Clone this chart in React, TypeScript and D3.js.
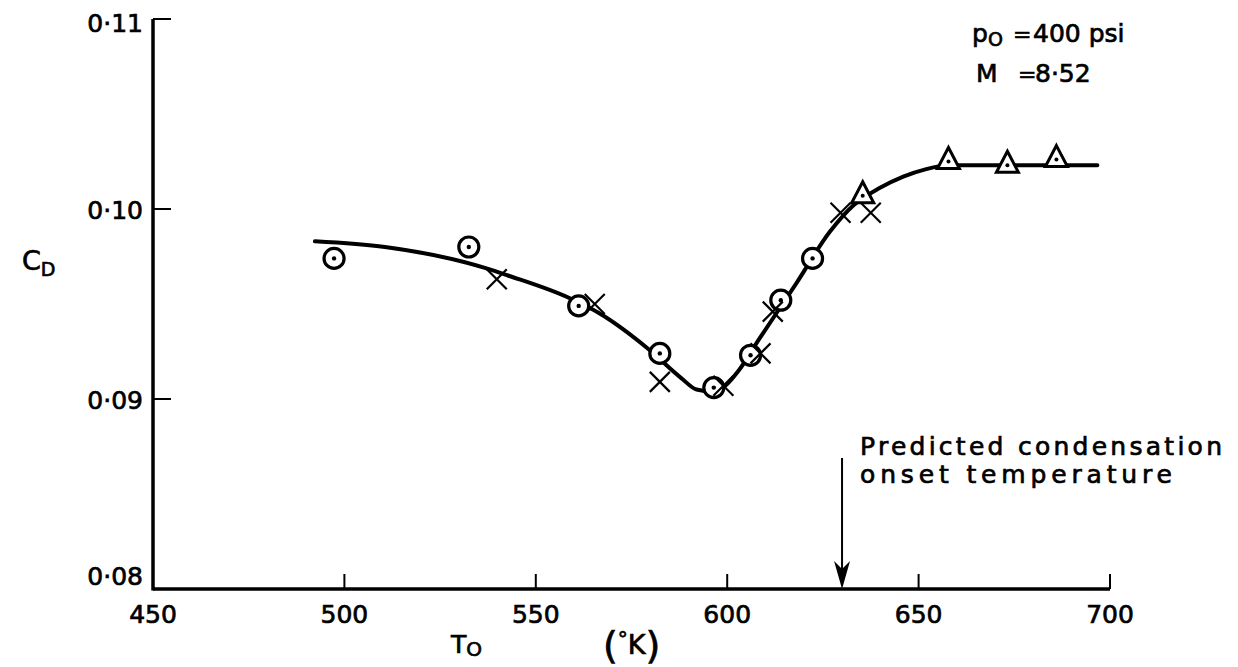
import React from "react";
import * as d3 from "d3";

// ---- data ----
const circleT = [497.3, 532.5, 561.2, 582.4, 596.5, 606.1, 614.0, 622.3];
const circleC = [0.0974, 0.098, 0.0949, 0.0924, 0.0906, 0.0923, 0.0952, 0.0974];

const crossT = [539.8, 565.4, 582.4, 599.0, 608.7, 611.9, 629.6, 637.5];
const crossC = [0.0963, 0.095, 0.0909, 0.0907, 0.0924, 0.0946, 0.0998, 0.0998];

const triT = [635.4, 657.8, 673.2, 686.0];
const triC = [0.1007, 0.1025, 0.1023, 0.1026];

const curveT = [492.3, 510.6, 536.7, 542.7, 558.9, 566.7, 579.0, 588.0, 592.0, 596.0, 599.5, 603.0, 608.5, 618.1, 626.8, 633.0, 639.8, 646.0, 652.0, 658.0, 670.0, 696.7];
const curveC = [0.0983, 0.098, 0.0969, 0.0965, 0.0953, 0.0945, 0.0927, 0.0911, 0.0905, 0.0904, 0.0907, 0.0915, 0.0932, 0.0961, 0.0988, 0.1002, 0.1011, 0.1017, 0.1021, 0.1023, 0.1023, 0.1023];

const xTicks = [450, 500, 550, 600, 650, 700];
const xTickLabels = ["450", "500", "550", "600", "650", "700"];
const yTicks = [0.08, 0.09, 0.1, 0.11];
const yTickLabels = ["0·08", "0·09", "0·10", "0·11"];
const onsetT = 630;

const W = 1238;
const H = 667;
const FONT = "'DejaVu Sans', sans-serif";

export default function App() {
  const x = d3.scaleLinear().domain([450, 700]).range([153, 1110]);
  const y = d3.scaleLinear().domain([0.08, 0.11]).range([589, 19]);

  const pts = curveT.map((t, i) => [t, curveC[i]] as [number, number]);
  const line = d3
    .line<[number, number]>()
    .x((d) => x(d[0]))
    .y((d) => y(d[1]))
    .curve(d3.curveMonotoneX);

  const x0 = x(450);
  const y0 = y(0.08);
  const ax = x(onsetT);

  const yLabelDy = (v: number) => (v === 0.08 ? -13 : v === 0.11 ? 4 : 1);
  const ts = { stroke: "#000", strokeWidth: 0.7 };

  return (
    <svg
      width={W}
      height={H}
      style={{ position: "fixed", left: 0, top: 0, background: "#fff" }}
      fontFamily={FONT}
    >
      <rect x={0} y={0} width={W} height={H} fill="#fff" />
      {/* axes */}
      <line x1={x0} y1={y0} x2={x(700)} y2={y0} stroke="#000" strokeWidth={3.5} />
      <line x1={x0} y1={y0 + 1.5} x2={x0} y2={y(0.11)} stroke="#000" strokeWidth={3.5} />
      {/* x ticks */}
      {xTicks.slice(1).map((t) => (
        <line key={"xt" + t} x1={x(t)} x2={x(t)} y1={y0} y2={y0 - 15} stroke="#000" strokeWidth={2} />
      ))}
      <g {...ts}>
        {xTicks.map((t, i) => (
          <text key={"xl" + t} x={x(t)} y={y0 + 34} textAnchor="middle" fontSize={25}>
            {xTickLabels[i]}
          </text>
        ))}
      </g>
      {/* y ticks */}
      {yTicks.slice(1).map((v) => (
        <line key={"yt" + v} x1={x0} x2={x0 + 18} y1={y(v)} y2={y(v)} stroke="#000" strokeWidth={2} />
      ))}
      <g {...ts}>
        {yTicks.map((v, i) => (
          <text
            key={"yl" + v}
            x={x0 - 10}
            y={y(v) + yLabelDy(v)}
            textAnchor="end"
            dominantBaseline="central"
            fontSize={25}
          >
            {yTickLabels[i]}
          </text>
        ))}
      </g>

      <g {...ts}>
        {/* axis titles */}
        <text x={22} y={270} fontSize={27}>
          C<tspan fontSize={19} dy={6}>D</tspan>
        </text>
        <text x={451} y={653} fontSize={25}>
          T<tspan fontSize={20} dy={3}>O</tspan>
        </text>
        <text x={603} y={654} fontSize={25}>
          <tspan fontSize={38} dy={4}>(</tspan>
          <tspan fontSize={20} dy={-12}>°</tspan>
          <tspan fontSize={27} dy={8}>K</tspan>
          <tspan fontSize={38} dy={4}>)</tspan>
        </text>

        {/* parameter box */}
        <text x={972} y={42} fontSize={25}>
          p<tspan fontSize={19} dy={4}>O</tspan>
        </text>
        <text x={1013} y={42} fontSize={22}>=</text>
        <text x={1033} y={42} fontSize={25}>400 psi</text>
        <text x={976} y={82} fontSize={25}>M</text>
        <text x={1018} y={82} fontSize={22}>=</text>
        <text x={1035} y={82} fontSize={25}>8·52</text>

        {/* annotation */}
        <text x={860} y={455} fontSize={25} textLength={362} lengthAdjust="spacing">
          Predicted condensation
        </text>
        <text x={860} y={483} fontSize={25} textLength={312} lengthAdjust="spacing">
          onset temperature
        </text>
      </g>
      <line x1={ax} x2={ax} y1={458} y2={580} stroke="#000" strokeWidth={2} />
      <path
        d={`M${ax},${y0} L${ax - 8},${y0 - 28} L${ax},${y0 - 20} L${ax + 8},${y0 - 28} Z`}
        fill="#000"
      />

      {/* fitted curve */}
      <path d={line(pts) || ""} fill="none" stroke="#000" strokeWidth={4} strokeLinecap="round" />

      {/* circles */}
      {circleT.map((t, i) => (
        <g key={"c" + i}>
          <circle cx={x(t)} cy={y(circleC[i])} r={10} fill="#fff" stroke="#000" strokeWidth={3.2} />
          <circle cx={x(t)} cy={y(circleC[i])} r={2.2} fill="#000" />
        </g>
      ))}
      {/* crosses */}
      {crossT.map((t, i) => {
        const cx = x(t);
        const cy = y(crossC[i]);
        const s = 10;
        return (
          <g key={"x" + i} stroke="#000" strokeWidth={2.2}>
            <line x1={cx - s} y1={cy - s} x2={cx + s} y2={cy + s} />
            <line x1={cx - s} y1={cy + s} x2={cx + s} y2={cy - s} />
          </g>
        );
      })}
      {/* triangles */}
      {triT.map((t, i) => {
        const cx = x(t);
        const cy = y(triC[i]);
        return (
          <g key={"t" + i}>
            <path
              d={`M${cx},${cy - 14} L${cx + 11},${cy + 7} L${cx - 11},${cy + 7} Z`}
              fill="#fff"
              stroke="#000"
              strokeWidth={3}
              strokeLinejoin="miter"
            />
            <circle cx={cx} cy={cy} r={2} fill="#000" />
          </g>
        );
      })}
    </svg>
  );
}
